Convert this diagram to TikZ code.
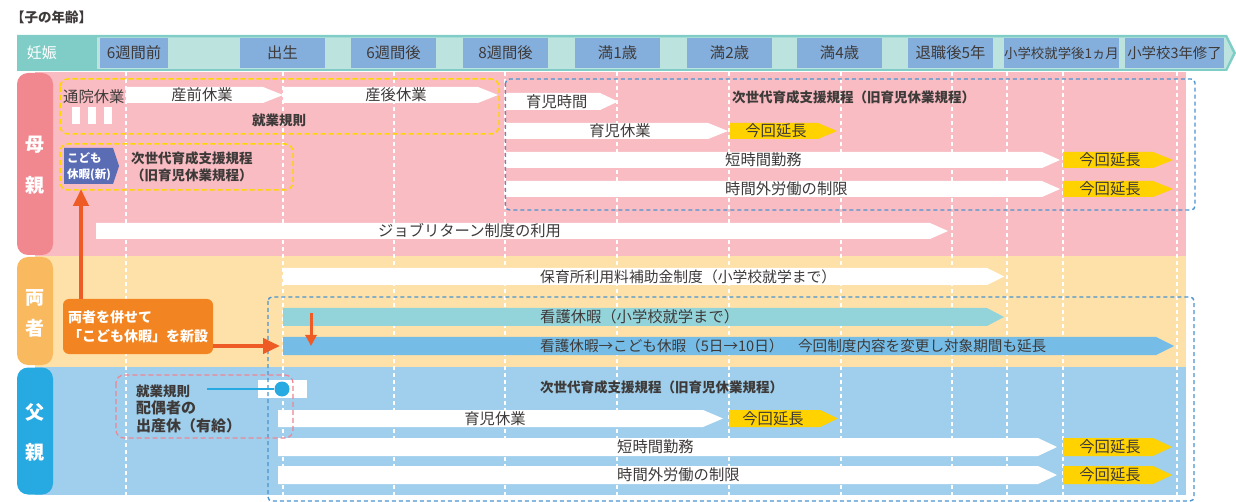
\documentclass[tikz,border=0pt]{standalone}
\usepackage{fontspec}
\setmainfont{Noto Sans CJK JP}
\usetikzlibrary{arrows.meta}
\definecolor{barteal}{HTML}{7FCDC6}
\definecolor{barlight}{HTML}{BDE3DF}
\definecolor{hdrblue}{HTML}{84AEDC}
\definecolor{pinkbg}{HTML}{F8BCC2}
\definecolor{pinkpill}{HTML}{F1888F}
\definecolor{yelbg}{HTML}{FEE1A9}
\definecolor{orpill}{HTML}{F9B95F}
\definecolor{bluebg}{HTML}{9FCFEC}
\definecolor{bluepill}{HTML}{27A9E1}
\definecolor{tagyel}{HTML}{FFD200}
\definecolor{tealarr}{HTML}{93D4DB}
\definecolor{bluearr}{HTML}{75BCE7}
\definecolor{kodomoblue}{HTML}{5A6CB4}
\definecolor{orangebox}{HTML}{F28521}
\definecolor{orangearr}{HTML}{EF5B24}
\definecolor{dashyel}{HTML}{FFD500}
\definecolor{dashblue}{HTML}{4A94CF}
\definecolor{dashpink}{HTML}{EE8593}
\definecolor{txtgray}{HTML}{3E3A39}
\newcommand{\flagarrow}[6]{\fill[#6] (#1,#3) -- (#5,#3) -- (#2,{(#3+#4)/2}) -- (#5,#4) -- (#1,#4) -- cycle;}
\tikzset{
  txt/.style={inner sep=0pt, text=txtgray, font=\fontsize{15.3}{18}\selectfont},
  serifb/.style={inner sep=0pt, text=txtgray, font=\bfseries\fontsize{13.5}{17}\selectfont},
  hbox/.style={fill=hdrblue, inner sep=0pt, minimum height=30pt, text=txtgray, font=\fontsize{15.3}{18}\selectfont},
  pilllabel/.style={inner sep=0pt, text=white, font=\bfseries\fontsize{19}{22}\selectfont},
  vguide/.style={white, line width=1.2pt, dash pattern=on 4pt off 3pt},
  yframe/.style={dashyel, line width=1.5pt, dash pattern=on 5pt off 3pt, rounded corners=8pt},
  bframe/.style={dashblue, line width=1.4pt, dash pattern=on 4pt off 3pt, rounded corners=4pt},
  pframe/.style={dashpink, line width=1.2pt, dash pattern=on 5pt off 3pt, rounded corners=8pt},
  oarrow/.style={orangearr, line width=4pt, -{Triangle[length=17pt,width=15pt]}},
  oarrowsmall/.style={orangearr, line width=3pt, -{Triangle[length=11pt,width=11pt]}},
}
\begin{document}
\begin{tikzpicture}[x=1pt,y=-1pt]
\useasboundingbox (0,0) rectangle (1236,502);
% title
\node[anchor=west, inner sep=0pt, text=txtgray, font=\bfseries\fontsize{13.5}{16}\selectfont] (title) at (11,17) {【子の年齢】};
% top bar
\fill[barteal] (17,35) -- (1227,35) -- (1236,53) -- (1227,71) -- (17,71) -- cycle;
\fill[barlight] (97,37.5) -- (1225.5,37.5) -- (1233,53) -- (1225.5,69) -- (97,69) -- cycle;
\node[inner sep=0pt, text=white, font=\fontsize{15}{18}\selectfont] (ninshin) at (42,53) {妊娠};
\node[hbox, minimum width=68pt] (h1) at (134,53) {6週間前};
\node[hbox, minimum width=85pt] (h2) at (282.5,53) {出生};
\node[hbox, minimum width=85pt] (h3) at (393.5,53) {6週間後};
\node[hbox, minimum width=85pt] (h4) at (505.5,53) {8週間後};
\node[hbox, minimum width=85pt] (h5) at (617.5,53) {満1歳};
\node[hbox, minimum width=85pt] (h6) at (729.5,53) {満2歳};
\node[hbox, minimum width=85pt] (h7) at (839.5,53) {満4歳};
\node[hbox, minimum width=85pt] (h8) at (950.5,53) {退職後5年};
\node[hbox, minimum width=111pt, font=\fontsize{13.4}{16}\selectfont] (h9) at (1061.5,53) {小学校就学後1ヵ月};
\node[hbox, minimum width=99pt, font=\fontsize{14.4}{17}\selectfont] (h10) at (1174.5,53) {小学校3年修了};
% section backgrounds
\fill[pinkbg] (35,72) rectangle (1186,256);
\fill[yelbg] (35,256) rectangle (1186,366.5);
\fill[bluebg] (35,366.5) rectangle (1186,495);
\fill[white] (17,72) rectangle (35,495);
\fill[pinkpill, rounded corners=11pt] (17,73) rectangle (53,255);
\fill[orpill, rounded corners=11pt] (17,257) rectangle (53,365);
\fill[bluepill, rounded corners=11pt] (17,367.5) rectangle (53,494.5);
\node[pilllabel] (m1) at (35,145) {母};
\node[pilllabel] (m2) at (35,185) {親};
\node[pilllabel] (b1) at (35,298) {両};
\node[pilllabel] (b2) at (35,328) {者};
\node[pilllabel] (f1) at (35,412) {父};
\node[pilllabel] (f2) at (35,452) {親};
% vertical guides
\foreach \gx in {126,283,394,505,617,729,841,952,1007,1063,1177}
  \draw[vguide] (\gx,72) -- (\gx,495);
% ===== mother =====
\fill[white] (72,107) rectangle (80,124);
\fill[white] (88,107) rectangle (96,124);
\fill[white] (104,107) rectangle (112,124);
\node[txt, anchor=west] (tsuin) at (63,97) {通院休業};
\flagarrow{126}{283}{87}{103}{263}{white}
\flagarrow{283}{498}{87}{103}{478}{white}
\node[txt] (sanzen) at (202,95) {産前休業};
\node[txt] (sango) at (396,95) {産後休業};
\node[serifb] (shugyo1) at (279,120) {就業規則};
\flagarrow{505}{618}{93}{110}{600}{white}
\node[txt, anchor=west] (ikujijikan) at (526,101.5) {育児時間};
\node[serifb, anchor=west] (jisedai1) at (732,97.5) {次世代育成支援規程（旧育児休業規程）};
\flagarrow{505}{728}{123}{139}{708}{white}
\node[txt] (ikujikyugyo1) at (620,131) {育児休業};
\flagarrow{730}{837}{123}{139}{818}{tagyel}
\node[txt] (ext1) at (776,131) {今回延長};
\flagarrow{505}{1060}{152}{168}{1042}{white}
\node[txt, anchor=west] (tanjikan1) at (725,160) {短時間勤務};
\flagarrow{1063}{1173}{152}{168}{1153}{tagyel}
\node[txt] (ext2) at (1110,160) {今回延長};
\flagarrow{505}{1060}{181}{197}{1042}{white}
\node[txt, anchor=west] (jikangai1) at (725,189) {時間外労働の制限};
\flagarrow{1063}{1173}{181}{197}{1153}{tagyel}
\node[txt] (ext3) at (1110,189) {今回延長};
\flagarrow{96}{948}{223}{239}{930}{white}
\node[txt, anchor=west] (jobreturn) at (378,231) {ジョブリターン制度の利用};
% kodomo kyuka box
\fill[kodomoblue] (64,148) -- (113,148) -- (119,166) -- (113,184) -- (64,184) -- cycle;
\node[anchor=west, align=left, inner sep=0pt, text=white, font=\bfseries\fontsize{11.5}{16}\selectfont] (kodomo) at (67,167) {こども\\休暇(新)};
\coordinate (kodomotip) at (81,189);
\node[serifb, anchor=west, align=left, font=\bfseries\fontsize{13.5}{17}\selectfont] (jisedai2) at (131,166.5) {次世代育成支援規程\\（旧育児休業規程）};
% ===== both =====
\flagarrow{283}{1004}{268}{285}{987}{white}
\node[txt, anchor=west, font=\fontsize{14.8}{18}\selectfont] (hoikusho) at (540,276.5) {保育所利用料補助金制度（小学校就学まで）};
\flagarrow{283}{1004}{308}{326}{987}{tealarr}
\node[txt, anchor=west] (kango) at (540,317) {看護休暇（小学校就学まで）};
\flagarrow{283}{1174}{337}{355}{1156}{bluearr}
\node[txt, anchor=west, font=\fontsize{14.6}{18}\selectfont] (kangonew) at (540,346) {看護休暇→こども休暇（5日→10日）　今回制度内容を変更し対象期間も延長};
\coordinate (kangotop) at (311,313);
\coordinate (newtop) at (311,346);
\coordinate (newleft) at (280,346);
% ===== father =====
\fill[white] (258,380) rectangle (307,398);
\node[serifb, anchor=west] (shugyo2) at (136,391) {就業規則};
\node[anchor=west, align=left, inner sep=0pt, text=txtgray, font=\bfseries\fontsize{15}{18.5}\selectfont] (haiguusha) at (136,417) {配偶者の\\出産休（有給）};
\node[serifb, anchor=west] (jisedai3) at (540,387) {次世代育成支援規程（旧育児休業規程）};
\flagarrow{278}{723}{410}{427}{703}{white}
\node[txt] (ikujikyugyo2) at (495,418.5) {育児休業};
\flagarrow{729}{838}{410}{427}{820}{tagyel}
\node[txt] (ext4) at (773,418.5) {今回延長};
\flagarrow{278}{1057}{438}{456}{1038}{white}
\node[txt, anchor=west] (tanjikan2) at (617,447) {短時間勤務};
\flagarrow{1063}{1172}{438}{456}{1153}{tagyel}
\node[txt] (ext5) at (1110,447) {今回延長};
\flagarrow{278}{1057}{466}{484}{1038}{white}
\node[txt, anchor=west] (jikangai2) at (617,475) {時間外労働の制限};
\flagarrow{1063}{1172}{466}{484}{1153}{tagyel}
\node[txt] (ext6) at (1110,475) {今回延長};
% frames
\draw[yframe] (60,79) rectangle (499,134);
\draw[yframe] (60,144) rectangle (293,190);
\draw[bframe] (505.5,79) rectangle (1195,210);
\draw[bframe] (268,297) rectangle (1194,501);
\draw[pframe] (116,375) rectangle (293,438);
% father dot
\node[circle, fill=bluepill, inner sep=0pt, minimum size=15pt] (dot) at (282,389) {};
\coordinate (dotstart) at (207,389);
\draw[bluepill, line width=1.5pt] (dotstart) -- (dot.west);
% orange box and arrows
\node[fill=orangebox, rounded corners=6pt, minimum width=150pt, minimum height=55pt, inner sep=0pt, align=left, text=white, font=\bfseries\fontsize{14}{19}\selectfont] (newbox) at (138,326.5) {両者を併せて\\「こども休暇」を新設};
\draw[oarrow] (newbox.north -| kodomotip) -- (kodomotip);
\draw[oarrow] (newbox.east |- newleft) -- (newleft);
\draw[oarrowsmall] (kangotop) -- (newtop);
\end{tikzpicture}
\end{document}
